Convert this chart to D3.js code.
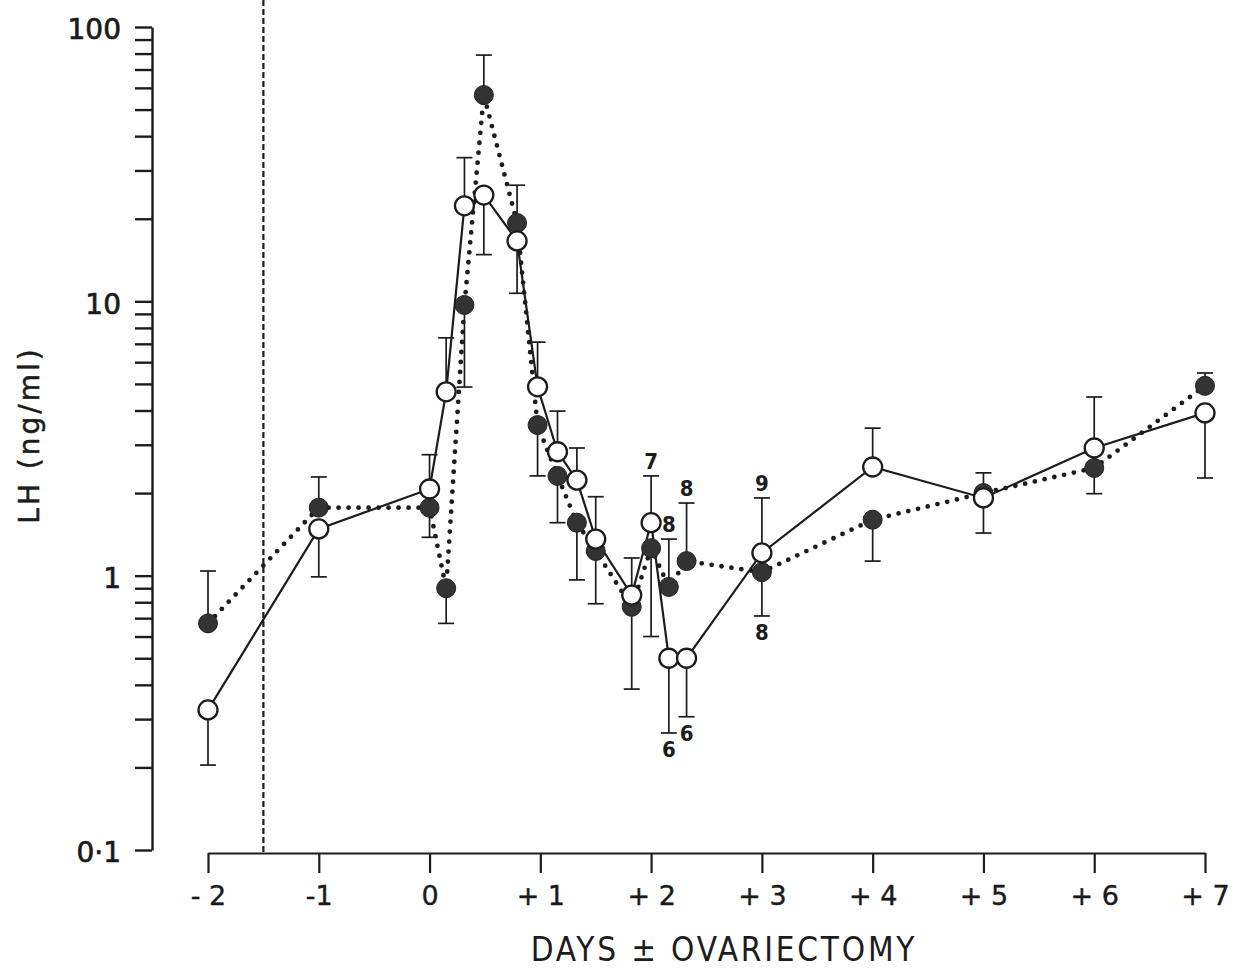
<!DOCTYPE html>
<html>
<head>
<meta charset="utf-8">
<script src="https://cdn.jsdelivr.net/npm/d3@7"></script>
<style>
  html, body { margin: 0; padding: 0; background: #fff; }
  svg { display: block; }
  .axis text { font-family: "DejaVu Sans", sans-serif; fill: #1a1a1a; }
</style>
</head>
<body>
<svg id="chart" width="1235" height="971"></svg>
<script>
// Sampling times (days relative to ovariectomy)
const sampleDays = [-2, -1, 0, 0.15, 0.315, 0.49, 0.79, 0.975, 1.155, 1.33, 1.5, 1.825, 2.0, 2.16, 2.32, 3, 4, 5, 6, 7];

// Mean plasma LH (ng/ml), filled-circle group (dotted line)
const filledLH = [0.67, 1.77, 1.77, 0.90, 9.7, 56.5, 19.3, 3.54, 2.31, 1.56, 1.23, 0.77, 1.26, 0.91, 1.13, 1.03, 1.60, 2.00, 2.47, 4.92];
// End of the one-sided SEM bar for each filled point
const filledErr = [1.04, 2.29, 1.38, 0.67, 4.87, 79, 26.5, 2.31, 1.56, 0.965, 0.79, 0.386, 0.60, 1.36, 1.84, 0.713, 1.13, 2.37, 1.99, 5.48];

// Mean plasma LH (ng/ml), open-circle group (solid line)
const openLH = [0.324, 1.48, 2.07, 4.68, 22.3, 24.4, 16.6, 4.88, 2.83, 2.23, 1.36, 0.85, 1.56, 0.50, 0.50, 1.21, 2.49, 1.92, 2.92, 3.92];
const openErr = [0.204, 0.99, 2.76, 7.36, 33.4, 14.8, 10.7, 7.1, 3.98, 2.92, 1.94, 1.16, 2.31, 0.267, 0.306, 1.92, 3.45, 1.43, 4.48, 2.27];

// Axis ticks
const dayTicks = [-2, -1, 0, 1, 2, 3, 4, 5, 6, 7];
const dayTickLabels = ["- 2", "-1", "0", "+ 1", "+ 2", "+ 3", "+ 4", "+ 5", "+ 6", "+ 7"];
const lhMajor = [0.1, 1, 10, 100];
const lhMajorLabels = ["0·1", "1", "10", "100"];

// Day of ovariectomy marker
const ovxDay = -1.5;

// Group sizes written beside some bars
const nLabels = [
  { day: 2.0,  value: 2.31,  text: "7", side: "above" },
  { day: 2.16, value: 1.36,  text: "8", side: "above" },
  { day: 2.32, value: 1.84,  text: "8", side: "above" },
  { day: 3,    value: 1.92,  text: "9", side: "above" },
  { day: 3,    value: 0.713, text: "8", side: "below" },
  { day: 2.16, value: 0.267, text: "6", side: "below" },
  { day: 2.32, value: 0.306, text: "6", side: "below" }
];

const svg = d3.select("#chart");
const ink = "#1c1c1c";

const x = d3.scaleLinear().domain([-2, 7]).range([208, 1205]);
const y = d3.scaleLog().domain([0.1, 100]).range([850, 27]);
const xAxisY = 853;
const yAxisX = 152;

// log tick values: 1..9 × each decade, up to 100
const lhTicks = [];
[0.1, 1, 10].forEach(dec => { for (let k = 1; k <= 9; k++) lhTicks.push(+(k * dec).toPrecision(3)); });
lhTicks.push(100);

// Y axis
const yAxis = svg.append("g")
  .attr("class", "axis")
  .attr("transform", `translate(${yAxisX},0)`)
  .call(d3.axisLeft(y)
    .tickValues(lhTicks)
    .tickSize(17)
    .tickSizeOuter(0)
    .tickPadding(14)
    .tickFormat(v => {
      const i = lhMajor.findIndex(m => Math.abs(m - v) < 1e-9);
      return i >= 0 ? lhMajorLabels[i] : "";
    }));
yAxis.selectAll("path, line").attr("stroke", ink).attr("stroke-width", 2.4);
yAxis.selectAll("text")
  .attr("font-size", 28)
  .attr("dy", "0.42em")
  .attr("stroke", ink)
  .attr("stroke-width", 0.7);

// X axis
const xAxis = svg.append("g")
  .attr("class", "axis")
  .attr("transform", `translate(0,${xAxisY})`)
  .call(d3.axisBottom(x)
    .tickValues(dayTicks)
    .tickSize(20)
    .tickSizeOuter(0)
    .tickPadding(11)
    .tickFormat((d, i) => dayTickLabels[i]));
xAxis.selectAll("path, line").attr("stroke", ink).attr("stroke-width", 2.2);
xAxis.selectAll("text")
  .attr("font-size", 27)
  .attr("dy", "0.76em")
  .attr("stroke", ink)
  .attr("stroke-width", 0.4);

// Ovariectomy dashed line
svg.append("line")
  .attr("x1", x(ovxDay)).attr("x2", x(ovxDay))
  .attr("y1", 0).attr("y2", xAxisY)
  .attr("stroke", ink)
  .attr("stroke-width", 2.2)
  .attr("stroke-dasharray", "6,3");

// Axis titles
svg.append("text")
  .attr("transform", "translate(39,435) rotate(-90)")
  .attr("text-anchor", "middle")
  .attr("font-family", "DejaVu Sans, sans-serif")
  .attr("font-size", 28)
  .attr("letter-spacing", 3)
  .attr("fill", ink)
  .attr("stroke", ink)
  .attr("stroke-width", 0.5)
  .text("LH (ng/ml)");

svg.append("text")
  .attr("x", 724).attr("y", 961)
  .attr("text-anchor", "middle")
  .attr("font-family", "DejaVu Sans Condensed, DejaVu Sans, sans-serif")
  .attr("font-size", 33)
  .attr("letter-spacing", 2.8)
  .attr("fill", ink)
  .text("DAYS ± OVARIECTOMY");

const filled = sampleDays.map((d, i) => ({ day: d, v: filledLH[i], e: filledErr[i] }));
const open = sampleDays.map((d, i) => ({ day: d, v: openLH[i], e: openErr[i] }));

// Error bars
function drawErrors(data) {
  const g = svg.append("g").attr("stroke", ink).attr("stroke-width", 1.7);
  g.selectAll("line.bar").data(data).join("line")
    .attr("x1", d => x(d.day)).attr("x2", d => x(d.day))
    .attr("y1", d => y(d.v)).attr("y2", d => y(d.e));
  g.selectAll("line.cap").data(data).join("line")
    .attr("x1", d => x(d.day) - 8).attr("x2", d => x(d.day) + 8)
    .attr("y1", d => y(d.e)).attr("y2", d => y(d.e));
}
drawErrors(filled);
drawErrors(open);

const line = d3.line().x(d => x(d.day)).y(d => y(d.v));

// Dotted line through filled circles
svg.append("path")
  .datum(filled)
  .attr("d", line)
  .attr("fill", "none")
  .attr("stroke", ink)
  .attr("stroke-width", 4.8)
  .attr("stroke-linecap", "round")
  .attr("stroke-dasharray", "0,10");

// Solid line through open circles
svg.append("path")
  .datum(open)
  .attr("d", line)
  .attr("fill", "none")
  .attr("stroke", ink)
  .attr("stroke-width", 2.2);

// Markers
svg.append("g").selectAll("circle").data(filled).join("circle")
  .attr("cx", d => x(d.day)).attr("cy", d => y(d.v))
  .attr("r", 9.5)
  .attr("fill", "#333")
  .attr("stroke", "#222")
  .attr("stroke-width", 1);

svg.append("g").selectAll("circle").data(open).join("circle")
  .attr("cx", d => x(d.day)).attr("cy", d => y(d.v))
  .attr("r", 9.5)
  .attr("fill", "#fff")
  .attr("stroke", ink)
  .attr("stroke-width", 2.3);

// n labels
svg.append("g").selectAll("text").data(nLabels).join("text")
  .attr("x", d => x(d.day))
  .attr("y", d => y(d.value) + (d.side === "above" ? -7 : 24))
  .attr("text-anchor", "middle")
  .attr("font-family", "Liberation Sans Narrow, DejaVu Sans Condensed, sans-serif")
  .attr("font-weight", "bold")
  .attr("font-size", 22)
  .attr("fill", ink)
  .text(d => d.text);
</script>
</body>
</html>
